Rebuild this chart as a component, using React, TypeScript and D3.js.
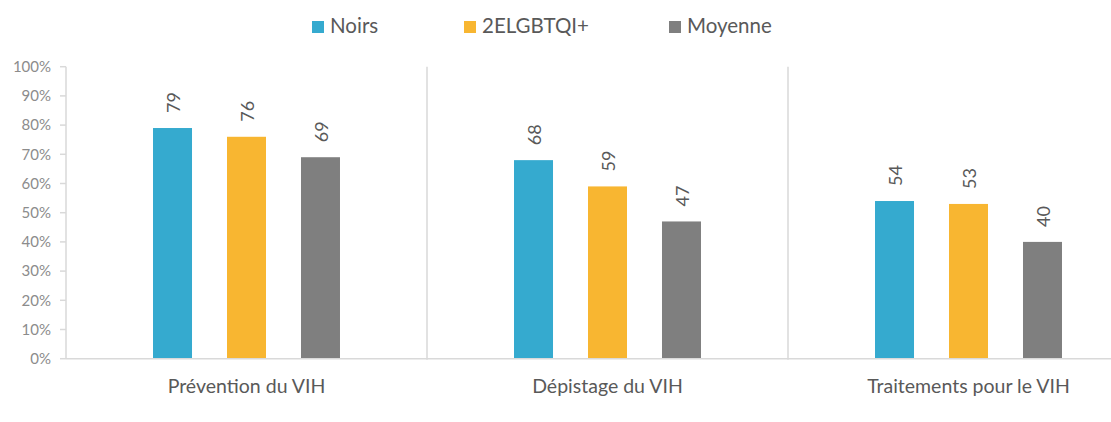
import React from "react";
import * as d3 from "d3";

const categories = ["Prévention du VIH", "Dépistage du VIH", "Traitements pour le VIH"];
const seriesNames = ["Noirs", "2ELGBTQI+", "Moyenne"];
const noirs = [79, 68, 54];
const lgbt = [76, 59, 53];
const moyenne = [69, 47, 40];
const yTicks = [0, 10, 20, 30, 40, 50, 60, 70, 80, 90, 100];
const colors = ["#35aacf", "#f8b631", "#7f7f7f"];

const W = 1111;
const H = 422;
const FONT = "Lato, 'Open Sans', sans-serif";

export default function App() {
  const values = [noirs, lgbt, moyenne];
  const x = d3.scaleBand<string>().domain(categories).range([66, 1149]).padding(0);
  const inner = d3
    .scaleBand<string>()
    .domain(seriesNames)
    .range([0, x.bandwidth()])
    .paddingInner(35 / 74)
    .paddingOuter(1.176);
  const y = d3.scaleLinear().domain([0, 100]).range([358.7, 66.7]);
  const fmt = (v: number) => `${v}%`;
  const axisColor = "#d9d9d9";

  const legendX = [312, 464, 669];

  return (
    <svg width={W} height={H} style={{ position: "absolute", left: 0, top: 0, display: "block" }}>
      <rect width={W} height={H} fill="#ffffff" />
      {/* legend */}
      {seriesNames.map((s, i) => (
        <g key={s}>
          <rect x={legendX[i]} y={21} width={12} height={12} fill={colors[i]} />
          <text x={legendX[i] + 18} y={33} fontFamily={FONT} fontSize={20.5} fill="#595959">
            {s}
          </text>
        </g>
      ))}
      {/* y axis */}
      <line x1={66} x2={66} y1={y(100)} y2={y(0)} stroke={axisColor} strokeWidth={1.5} />
      {yTicks.map((t) => (
        <g key={t}>
          <line x1={60} x2={66} y1={y(t)} y2={y(t)} stroke={axisColor} strokeWidth={1.5} />
          <text
            x={51}
            y={y(t)}
            dy="0.35em"
            textAnchor="end"
            fontFamily={FONT}
            fontSize={15}
            fill="#8c8c8c"
          >
            {fmt(t)}
          </text>
        </g>
      ))}
      {/* category dividers */}
      {categories.map((c) => (
        <line
          key={c}
          x1={(x(c) as number) + x.bandwidth()}
          x2={(x(c) as number) + x.bandwidth()}
          y1={y(100)}
          y2={y(0) + 1}
          stroke={axisColor}
          strokeWidth={1.5}
        />
      ))}
      {/* bars */}
      {categories.map((c, ci) =>
        seriesNames.map((s, si) => {
          const v = values[si][ci];
          const bx = (x(c) as number) + (inner(s) as number);
          const cx = bx + inner.bandwidth() / 2;
          const ty = y(v) - 15;
          return (
            <g key={c + s}>
              <rect x={bx} y={y(v)} width={inner.bandwidth()} height={y(0) - y(v)} fill={colors[si]} />
              <text
                transform={`translate(${cx + 1},${ty}) rotate(-90)`}
                dy="0.35em"
                textAnchor="start"
                fontFamily={FONT}
                fontSize={18}
                fill="#595959"
              >
                {v}
              </text>
            </g>
          );
        })
      )}
      {/* x axis */}
      <line x1={66} x2={W} y1={y(0)} y2={y(0)} stroke={axisColor} strokeWidth={1.5} />
      {categories.map((c) => (
        <text
          key={c}
          x={(x(c) as number) + x.bandwidth() / 2}
          y={393}
          textAnchor="middle"
          fontFamily={FONT}
          fontSize={19.5}
          fill="#595959"
        >
          {c}
        </text>
      ))}
    </svg>
  );
}
